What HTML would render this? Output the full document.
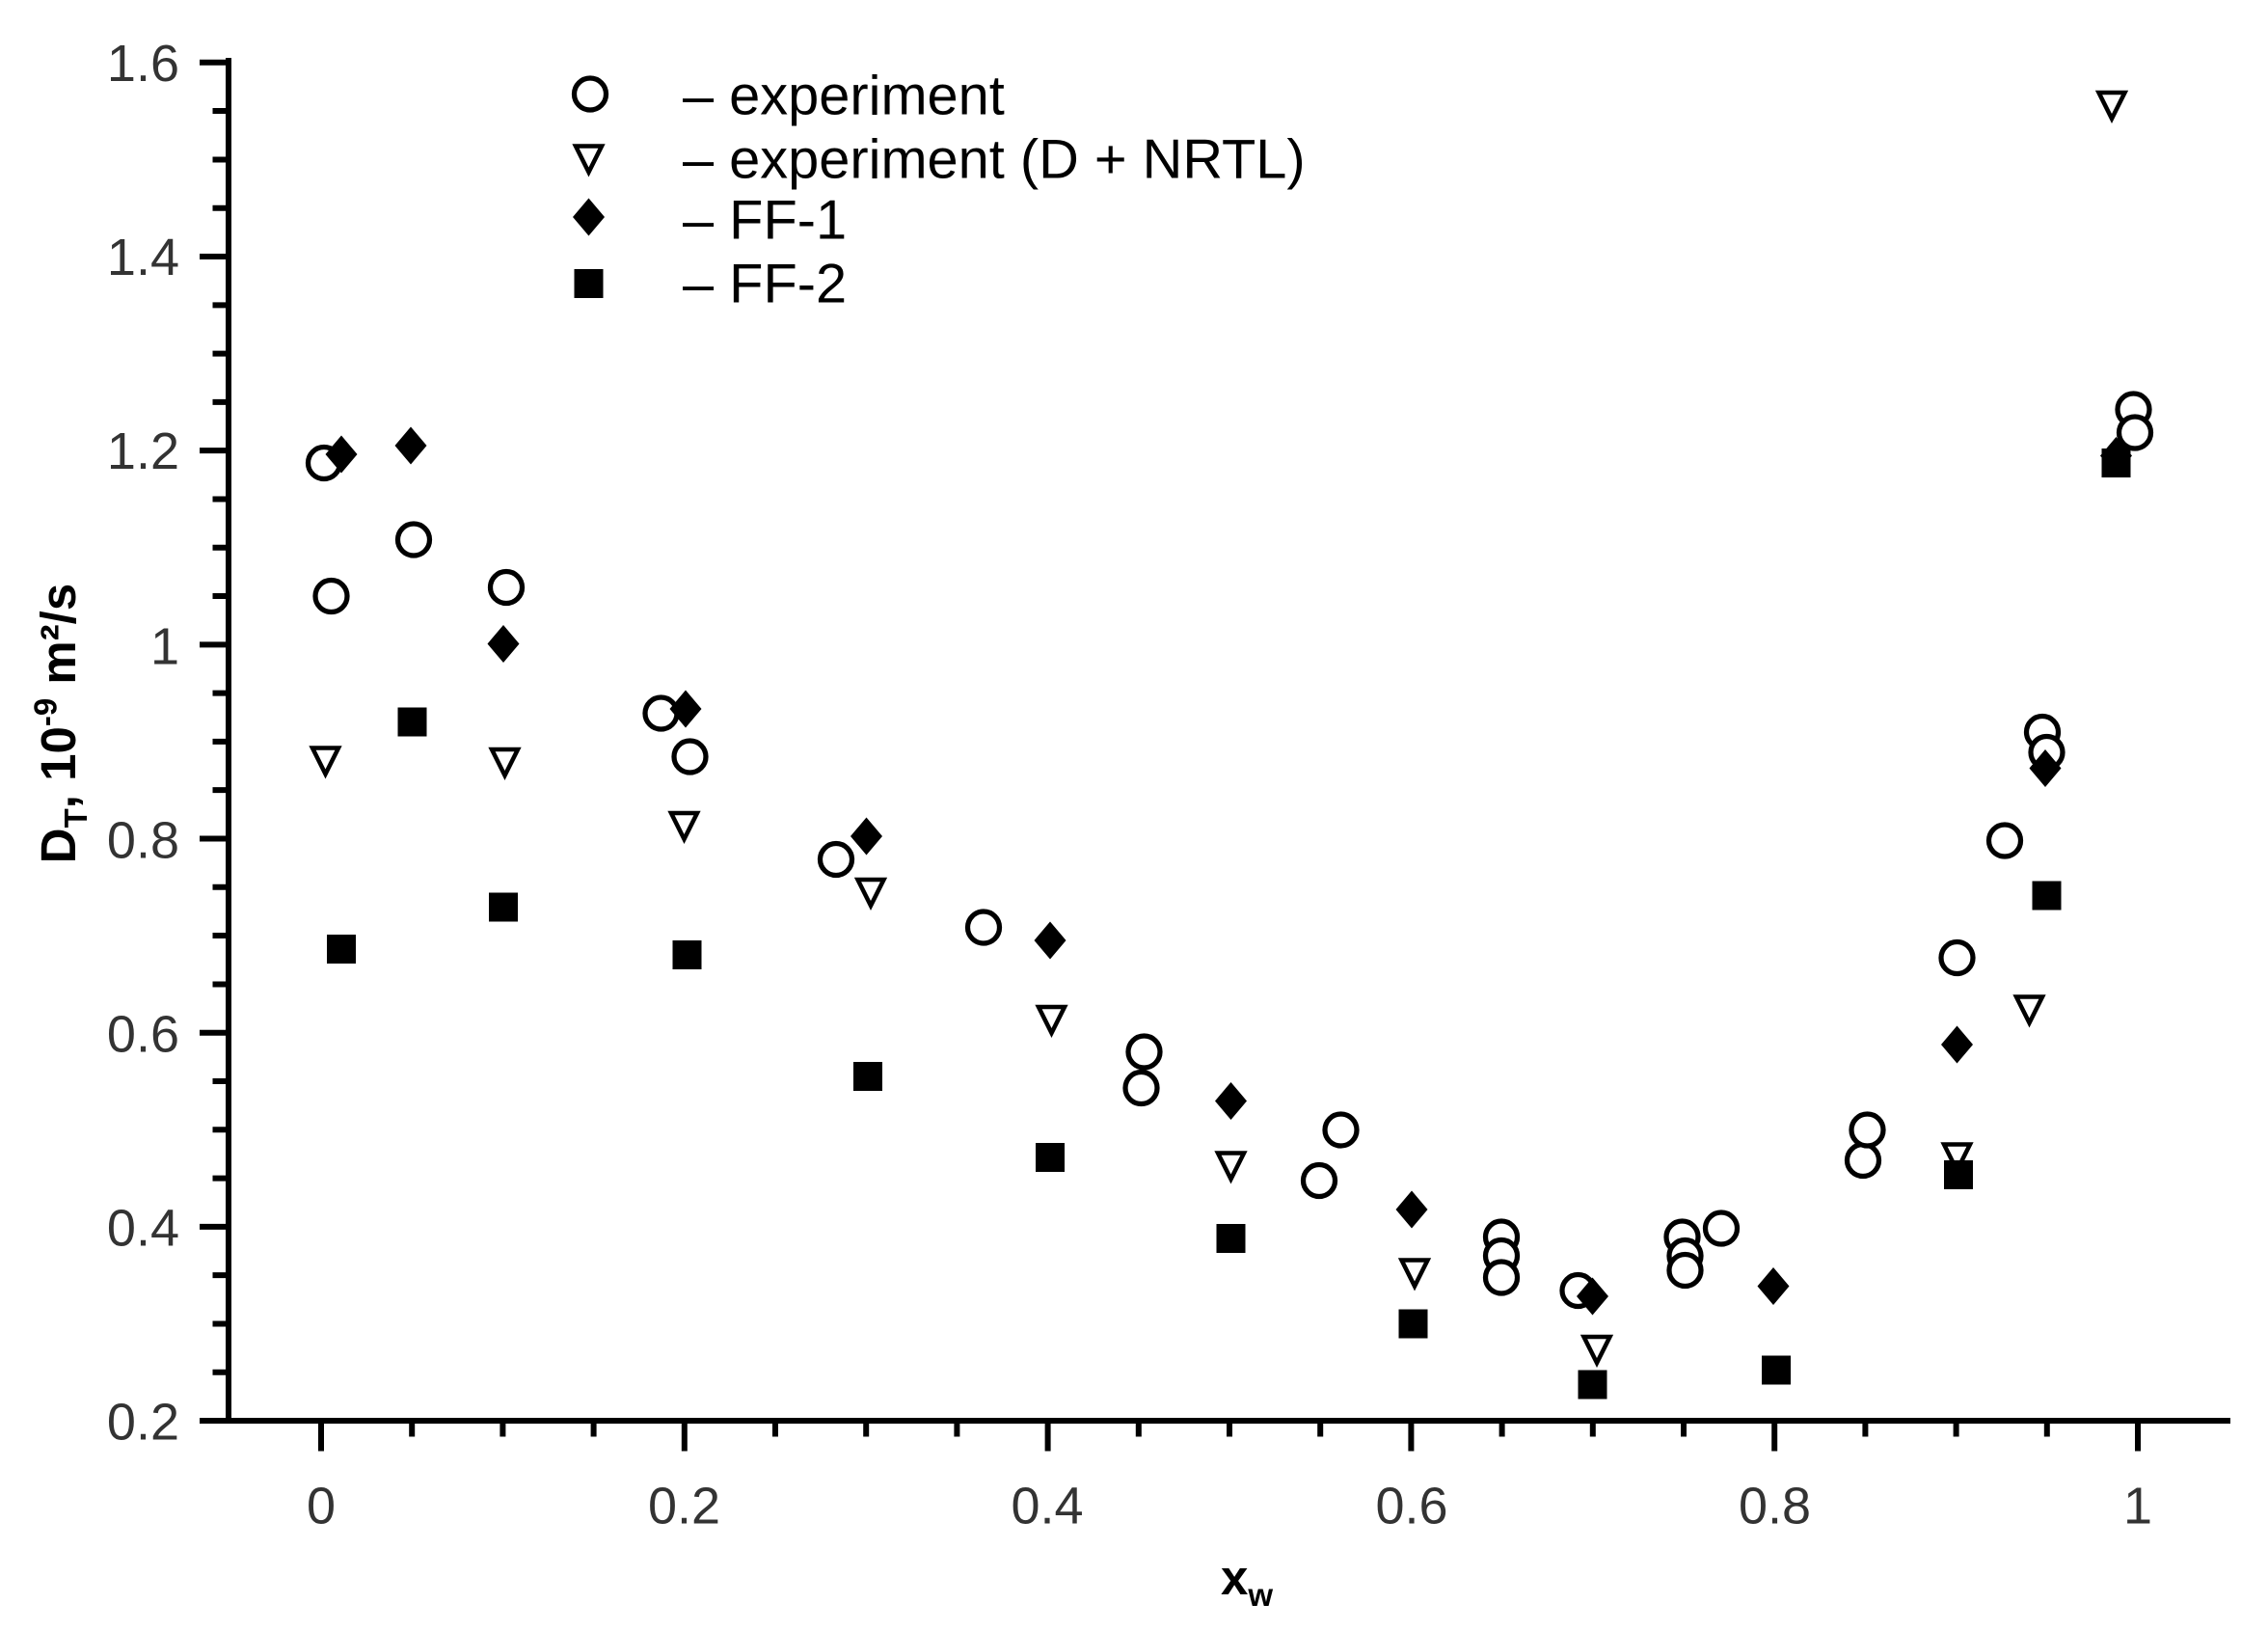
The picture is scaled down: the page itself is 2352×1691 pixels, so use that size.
<!DOCTYPE html>
<html><head><meta charset="utf-8"><style>html,body{margin:0;padding:0;background:#fff}svg{display:block}</style></head>
<body>
<svg width="2352" height="1691" viewBox="0 0 1568 1127.33" xmlns="http://www.w3.org/2000/svg" font-family="Liberation Sans, sans-serif">
<rect width="1568" height="1127.33" fill="#fff"/>
<g stroke="#000" stroke-width="4" stroke-linecap="butt">
<line x1="158" y1="40" x2="158" y2="984"/>
<line x1="156" y1="982" x2="1542" y2="982"/>
<g>
<line x1="138" y1="982" x2="158" y2="982"/><line x1="147" y1="948.5" x2="158" y2="948.5"/><line x1="147" y1="915" x2="158" y2="915"/><line x1="147" y1="881.4" x2="158" y2="881.4"/>
<line x1="138" y1="847.9" x2="158" y2="847.9"/><line x1="147" y1="814.4" x2="158" y2="814.4"/><line x1="147" y1="780.8" x2="158" y2="780.8"/><line x1="147" y1="747.3" x2="158" y2="747.3"/>
<line x1="138" y1="713.8" x2="158" y2="713.8"/><line x1="147" y1="680.3" x2="158" y2="680.3"/><line x1="147" y1="646.7" x2="158" y2="646.7"/><line x1="147" y1="613.2" x2="158" y2="613.2"/>
<line x1="138" y1="579.7" x2="158" y2="579.7"/><line x1="147" y1="546.1" x2="158" y2="546.1"/><line x1="147" y1="512.6" x2="158" y2="512.6"/><line x1="147" y1="479.1" x2="158" y2="479.1"/>
<line x1="138" y1="445.6" x2="158" y2="445.6"/><line x1="147" y1="412" x2="158" y2="412"/><line x1="147" y1="378.5" x2="158" y2="378.5"/><line x1="147" y1="345" x2="158" y2="345"/>
<line x1="138" y1="311.4" x2="158" y2="311.4"/><line x1="147" y1="277.9" x2="158" y2="277.9"/><line x1="147" y1="244.4" x2="158" y2="244.4"/><line x1="147" y1="210.9" x2="158" y2="210.9"/>
<line x1="138" y1="177.3" x2="158" y2="177.3"/><line x1="147" y1="143.8" x2="158" y2="143.8"/><line x1="147" y1="110.3" x2="158" y2="110.3"/><line x1="147" y1="76.7" x2="158" y2="76.7"/>
<line x1="138" y1="43.2" x2="158" y2="43.2"/>
</g>
<g>
<line x1="222" y1="982" x2="222" y2="1003"/><line x1="284.8" y1="982" x2="284.8" y2="993"/><line x1="347.6" y1="982" x2="347.6" y2="993"/><line x1="410.4" y1="982" x2="410.4" y2="993"/>
<line x1="473.2" y1="982" x2="473.2" y2="1003"/><line x1="536" y1="982" x2="536" y2="993"/><line x1="598.8" y1="982" x2="598.8" y2="993"/><line x1="661.6" y1="982" x2="661.6" y2="993"/>
<line x1="724.4" y1="982" x2="724.4" y2="1003"/><line x1="787.2" y1="982" x2="787.2" y2="993"/><line x1="850" y1="982" x2="850" y2="993"/><line x1="912.8" y1="982" x2="912.8" y2="993"/>
<line x1="975.6" y1="982" x2="975.6" y2="1003"/><line x1="1038.4" y1="982" x2="1038.4" y2="993"/><line x1="1101.2" y1="982" x2="1101.2" y2="993"/><line x1="1164" y1="982" x2="1164" y2="993"/>
<line x1="1226.8" y1="982" x2="1226.8" y2="1003"/><line x1="1289.6" y1="982" x2="1289.6" y2="993"/><line x1="1352.4" y1="982" x2="1352.4" y2="993"/><line x1="1415.2" y1="982" x2="1415.2" y2="993"/>
<line x1="1478" y1="982" x2="1478" y2="1003"/>
</g>
</g>
<g fill="#333" font-size="36" text-anchor="end">
<text x="124" y="995">0.2</text><text x="124" y="861">0.4</text><text x="124" y="727">0.6</text><text x="124" y="593">0.8</text><text x="124" y="459">1</text><text x="124" y="324">1.2</text><text x="124" y="190">1.4</text><text x="124" y="56">1.6</text>
</g>
<g fill="#333" font-size="36" text-anchor="middle">
<text x="222" y="1053">0</text><text x="473" y="1053">0.2</text><text x="724" y="1053">0.4</text><text x="976" y="1053">0.6</text><text x="1227" y="1053">0.8</text><text x="1478" y="1053">1</text>
</g>
<text x="862" y="1102" font-size="34" font-weight="bold" text-anchor="middle">x<tspan font-size="22" dy="8">w</tspan></text>
<text transform="translate(52,500) rotate(-90)" font-size="34" font-weight="bold" text-anchor="middle">D<tspan font-size="22" dy="8">T</tspan><tspan dy="-8">, 10</tspan><tspan font-size="22" dy="-13">-9</tspan><tspan dy="13"> m²/s</tspan></text>
<g fill="#fff" stroke="#000" stroke-width="3.5">
<circle cx="224" cy="320" r="11"/><circle cx="229" cy="412" r="11"/><circle cx="286" cy="373" r="11"/><circle cx="350" cy="406" r="11"/><circle cx="457" cy="493" r="11"/><circle cx="477" cy="523" r="11"/><circle cx="578" cy="594" r="11"/><circle cx="680" cy="641" r="11"/><circle cx="791" cy="727" r="11"/><circle cx="789" cy="752" r="11"/><circle cx="912" cy="816" r="11"/><circle cx="927" cy="781" r="11"/><circle cx="1038" cy="855" r="11"/><circle cx="1038" cy="868" r="11"/><circle cx="1038" cy="883" r="11"/><circle cx="1091" cy="892" r="11"/><circle cx="1163" cy="855" r="11"/><circle cx="1165" cy="868" r="11"/><circle cx="1165" cy="878" r="11"/><circle cx="1190" cy="849" r="11"/><circle cx="1288" cy="802" r="11"/><circle cx="1291" cy="781" r="11"/><circle cx="1353" cy="662" r="11"/><circle cx="1386" cy="581" r="11"/><circle cx="1412" cy="506" r="11"/><circle cx="1415" cy="520" r="11"/><circle cx="1475" cy="283" r="11"/><circle cx="1476" cy="299" r="11"/>
<circle cx="408" cy="65" r="11"/>
</g>
<g fill="#fff" stroke="#000" stroke-width="3">
<path d="M0,0 m-9,-9 h18 l-9,18 z" transform="translate(225,526)"/><path d="M0,0 m-9,-9 h18 l-9,18 z" transform="translate(349,527)"/><path d="M0,0 m-9,-9 h18 l-9,18 z" transform="translate(473,571)"/><path d="M0,0 m-9,-9 h18 l-9,18 z" transform="translate(602,617)"/><path d="M0,0 m-9,-9 h18 l-9,18 z" transform="translate(727,705)"/><path d="M0,0 m-9,-9 h18 l-9,18 z" transform="translate(851,806)"/><path d="M0,0 m-9,-9 h18 l-9,18 z" transform="translate(978,880)"/><path d="M0,0 m-9,-9 h18 l-9,18 z" transform="translate(1104,933)"/><path d="M0,0 m-9,-9 h18 l-9,18 z" transform="translate(1353,800)"/><path d="M0,0 m-9,-9 h18 l-9,18 z" transform="translate(1403,698)"/><path d="M0,0 m-9,-9 h18 l-9,18 z" transform="translate(1460,73)"/>
<path d="M0,0 m-9,-9 h18 l-9,18 z" transform="translate(407,110)"/>
</g>
<g fill="#000">
<path d="M0,-13 L11,0 L0,13 L-11,0 z" transform="translate(236,314)"/><path d="M0,-13 L11,0 L0,13 L-11,0 z" transform="translate(284,308)"/><path d="M0,-13 L11,0 L0,13 L-11,0 z" transform="translate(348,445)"/><path d="M0,-13 L11,0 L0,13 L-11,0 z" transform="translate(474,490)"/><path d="M0,-13 L11,0 L0,13 L-11,0 z" transform="translate(599,578)"/><path d="M0,-13 L11,0 L0,13 L-11,0 z" transform="translate(726,650)"/><path d="M0,-13 L11,0 L0,13 L-11,0 z" transform="translate(851,761)"/><path d="M0,-13 L11,0 L0,13 L-11,0 z" transform="translate(976,836)"/><path d="M0,-13 L11,0 L0,13 L-11,0 z" transform="translate(1101,896)"/><path d="M0,-13 L11,0 L0,13 L-11,0 z" transform="translate(1226,889)"/><path d="M0,-13 L11,0 L0,13 L-11,0 z" transform="translate(1353,722)"/><path d="M0,-13 L11,0 L0,13 L-11,0 z" transform="translate(1414,531)"/><path d="M0,-13 L11,0 L0,13 L-11,0 z" transform="translate(1463,315)"/>
<path d="M0,-13 L11,0 L0,13 L-11,0 z" transform="translate(407,150)"/>
<rect x="226" y="646" width="20" height="20"/><rect x="275" y="489" width="20" height="20"/><rect x="338" y="617" width="20" height="20"/><rect x="465" y="650" width="20" height="20"/><rect x="590" y="734" width="20" height="20"/><rect x="716" y="790" width="20" height="20"/><rect x="841" y="846" width="20" height="20"/><rect x="967" y="905" width="20" height="20"/><rect x="1091" y="947" width="20" height="20"/><rect x="1218" y="937" width="20" height="20"/><rect x="1344" y="802" width="20" height="20"/><rect x="1405" y="609" width="20" height="20"/><rect x="1453" y="310" width="20" height="20"/>
<rect x="397" y="186" width="20" height="20"/>
</g>
<g font-size="38.5" fill="#000">
<text x="472" y="79">– experiment</text>
<text x="472" y="123">– experiment (D + NRTL)</text>
<text x="472" y="165">– FF-1</text>
<text x="472" y="209">– FF-2</text>
</g>
</svg>
</body></html>
